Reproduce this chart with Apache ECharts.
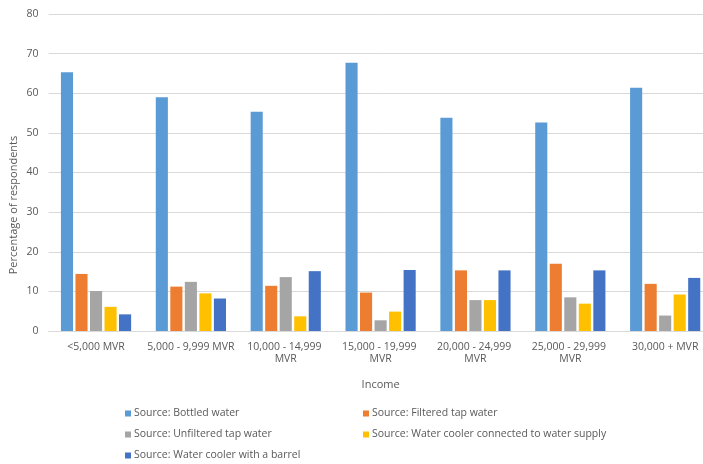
<!DOCTYPE html>
<html>
<head>
<meta charset="utf-8">
<script src="https://cdn.jsdelivr.net/npm/echarts@6/dist/echarts.min.js"></script>
<style>html,body{margin:0;padding:0;background:#fff;}#c{width:703px;height:464px;}</style>
</head>
<body>
<div id="c"></div>
<script>
var categories = ['<5,000 MVR', '5,000 - 9,999 MVR', '10,000 - 14,999 MVR', '15,000 - 19,999 MVR', '20,000 - 24,999 MVR', '25,000 - 29,999 MVR', '30,000 + MVR'];
var seriesNames = ['Source: Bottled water', 'Source: Filtered tap water', 'Source: Unfiltered tap water', 'Source: Water cooler connected to water supply', 'Source: Water cooler with a barrel'];
var bottled = [65.3, 59.0, 55.3, 67.7, 53.8, 52.6, 61.4];
var filtered = [14.4, 11.2, 11.4, 9.7, 15.3, 17.0, 11.9];
var unfiltered = [10.1, 12.4, 13.6, 2.7, 7.8, 8.5, 3.9];
var coolerSupply = [6.1, 9.5, 3.7, 4.9, 7.8, 6.9, 9.2];
var coolerBarrel = [4.2, 8.2, 15.1, 15.4, 15.3, 15.3, 13.4];
var yTicks = [0, 10, 20, 30, 40, 50, 60, 70, 80];

var colors = ['#5B9BD5', '#ED7D31', '#A5A5A5', '#FFC000', '#4472C4'];
var values = [bottled, filtered, unfiltered, coolerSupply, coolerBarrel];
var FONT = 'Open Sans';
var TXT = '#595959';

var legendPos = [[125, 408], [363, 408], [125, 429], [363, 429], [125, 450]];
var legends = seriesNames.map(function (n, i) {
  return {
    data: [n], left: legendPos[i][0], top: legendPos[i][1],
    icon: 'rect', itemWidth: 6, itemHeight: 6, itemGap: 0,
    padding: 0, selectedMode: false,
    textStyle: { color: TXT, fontSize: 10.5, fontFamily: FONT, padding: [0, 0, 0, -2] }
  };
});

var chart = echarts.init(document.getElementById('c'), null, { renderer: 'canvas' });
chart.setOption({
  animation: false,
  backgroundColor: '#ffffff',
  color: colors,
  grid: { left: 48.6, width: 664, top: 14, bottom: 133, containLabel: false, outerBoundsMode: 'none' },
  legend: legends,
  graphic: [{
    type: 'text', x: 14, y: 205, rotation: Math.PI / 2,
    style: { text: 'Percentage of respondents', fill: TXT, font: '11px "Open Sans"', align: 'center', verticalAlign: 'middle' }
  }],
  xAxis: {
    type: 'category', data: categories,
    name: 'Income', nameLocation: 'middle', nameGap: 48,
    nameTextStyle: { color: TXT, fontSize: 11, fontFamily: FONT },
    axisLine: { lineStyle: { color: '#D9D9D9', width: 1 } },
    axisTick: { show: false },
    axisLabel: { color: TXT, fontSize: 10.5, fontFamily: FONT, margin: 10, lineHeight: 12, width: 88, overflow: 'break', interval: 0 }
  },
  yAxis: {
    type: 'value', min: yTicks[0], max: yTicks[yTicks.length - 1], interval: 10,
    axisLine: { show: false }, axisTick: { show: false },
    axisLabel: { color: TXT, fontSize: 10.5, fontFamily: FONT, margin: 10 },
    splitLine: { lineStyle: { color: '#D9D9D9', width: 1 } }
  },
  series: values.map(function (v, i) {
    return {
      type: 'bar', name: seriesNames[i], data: v,
      barCategoryGap: '26%', barGap: '20%',
      itemStyle: { color: colors[i] }
    };
  })
});
</script>
</body>
</html>
